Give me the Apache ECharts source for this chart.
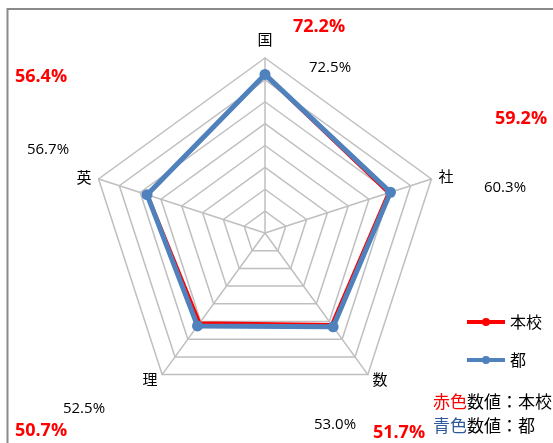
<!DOCTYPE html>
<html>
<head>
<meta charset="utf-8">
<script src="https://cdn.jsdelivr.net/npm/echarts@6/dist/echarts.min.js"></script>
<style>html,body{margin:0;padding:0;background:#fff}#c{width:553px;height:443px}</style>
</head>
<body>
<div id="c"></div>
<script>
// ---- data ----
const subjects = ['国', '社', '数', '理', '英'];
const schoolValues = [72.2, 59.2, 51.7, 50.7, 56.4];   // 本校 (red)
const tokyoValues  = [72.5, 60.3, 53.0, 52.5, 56.7];   // 都 (blue)
const seriesNames = ['本校', '都'];
const axisMax = 80;
const noteLines = [['赤色', '数値：本校'], ['青色', '数値：都']];

// ---- layout / style ----
const RED = '#FF0000', BLUE = '#4F81BD';
const namePos  = [[265, 39], [446, 176], [380, 379], [150, 379], [84, 177]];
const redPos   = [[319, 27], [521, 119], [399, 433], [41, 431], [41, 77]];
const blackPos = [[330, 68], [505, 188], [335, 425], [84, 409], [48, 150]];

// ECharts radar goes counter-clockwise; reorder so the picture goes clockwise
const order = [0, 4, 3, 2, 1];
const ind = order.map(i => ({ name: subjects[i], max: axisMax, min: 0 }));
const sVals = order.map(i => schoolValues[i]);
const tVals = order.map(i => tokyoValues[i]);

const numFont = '"Open Sans", "Noto Sans", sans-serif';
const cjkFont = '"Noto Sans CJK JP", sans-serif';

const graphics = [
  { type: 'polyline', silent: true, shape: { points: [[7.5, 443], [7.5, 9], [553, 9]] },
    style: { stroke: '#8A8A8A', lineWidth: 2, fill: null } }
];
subjects.forEach((s, i) => {
  graphics.push({ type: 'text', style: { x: namePos[i][0], y: namePos[i][1], text: s,
    font: '15px ' + cjkFont, fill: '#000', align: 'center', verticalAlign: 'middle' } });
  graphics.push({ type: 'text', style: { x: redPos[i][0], y: redPos[i][1], text: schoolValues[i].toFixed(1) + '%',
    font: 'bold 18px ' + numFont, fill: RED, align: 'center', verticalAlign: 'middle' } });
  graphics.push({ type: 'text', style: { x: blackPos[i][0], y: blackPos[i][1], text: tokyoValues[i].toFixed(1) + '%',
    font: '15px ' + numFont, fill: '#000', align: 'center', verticalAlign: 'middle' } });
});
graphics.push({ type: 'text', style: { x: 433, y: 402, text: '{r|' + noteLines[0][0] + '}{k|' + noteLines[0][1] + '}',
  verticalAlign: 'middle', align: 'left',
  rich: { r: { fill: RED, font: '17px ' + cjkFont }, k: { fill: '#000', font: '17px ' + cjkFont } } } });
graphics.push({ type: 'text', style: { x: 433, y: 426, text: '{b|' + noteLines[1][0] + '}{k|' + noteLines[1][1] + '}',
  verticalAlign: 'middle', align: 'left',
  rich: { b: { fill: '#2E5A9C', font: '17px ' + cjkFont }, k: { fill: '#000', font: '17px ' + cjkFont } } } });

const legendIcon = 'path://M0,4 L38,4 L38,8 L0,8 Z M15,6 A4,4 0 1,1 23,6 A4,4 0 1,1 15,6 Z';

const chart = echarts.init(document.getElementById('c'), null, { renderer: 'canvas' });
chart.setOption({
  animation: false,
  backgroundColor: '#fff',
  legend: {
    orient: 'vertical', left: 467, top: 314, padding: 0, itemWidth: 38, itemHeight: 12, itemGap: 22,
    data: [{ name: seriesNames[0], icon: legendIcon, itemStyle: { color: RED } },
           { name: seriesNames[1], icon: legendIcon, itemStyle: { color: BLUE } }],
    textStyle: { fontFamily: cjkFont, fontSize: 16, color: '#000', lineHeight: 16 }
  },
  radar: {
    center: [265, 233], radius: 175, startAngle: 90, splitNumber: 8, shape: 'polygon',
    indicator: ind,
    axisName: { show: false },
    axisLine: { lineStyle: { color: '#BFBFBF', width: 1.5 } },
    splitLine: { lineStyle: { color: '#BFBFBF', width: 1.5 } },
    splitArea: { show: false },
    axisTick: { show: false }, axisLabel: { show: false }
  },
  series: [{
    type: 'radar',
    data: [
      { name: seriesNames[0], value: sVals, symbol: 'none',
        lineStyle: { color: RED, width: 3 }, itemStyle: { color: RED } },
      { name: seriesNames[1], value: tVals, symbol: 'circle', symbolSize: 11,
        lineStyle: { color: BLUE, width: 5 }, itemStyle: { color: BLUE } }
    ]
  }],
  graphic: graphics
});
</script>
</body>
</html>
